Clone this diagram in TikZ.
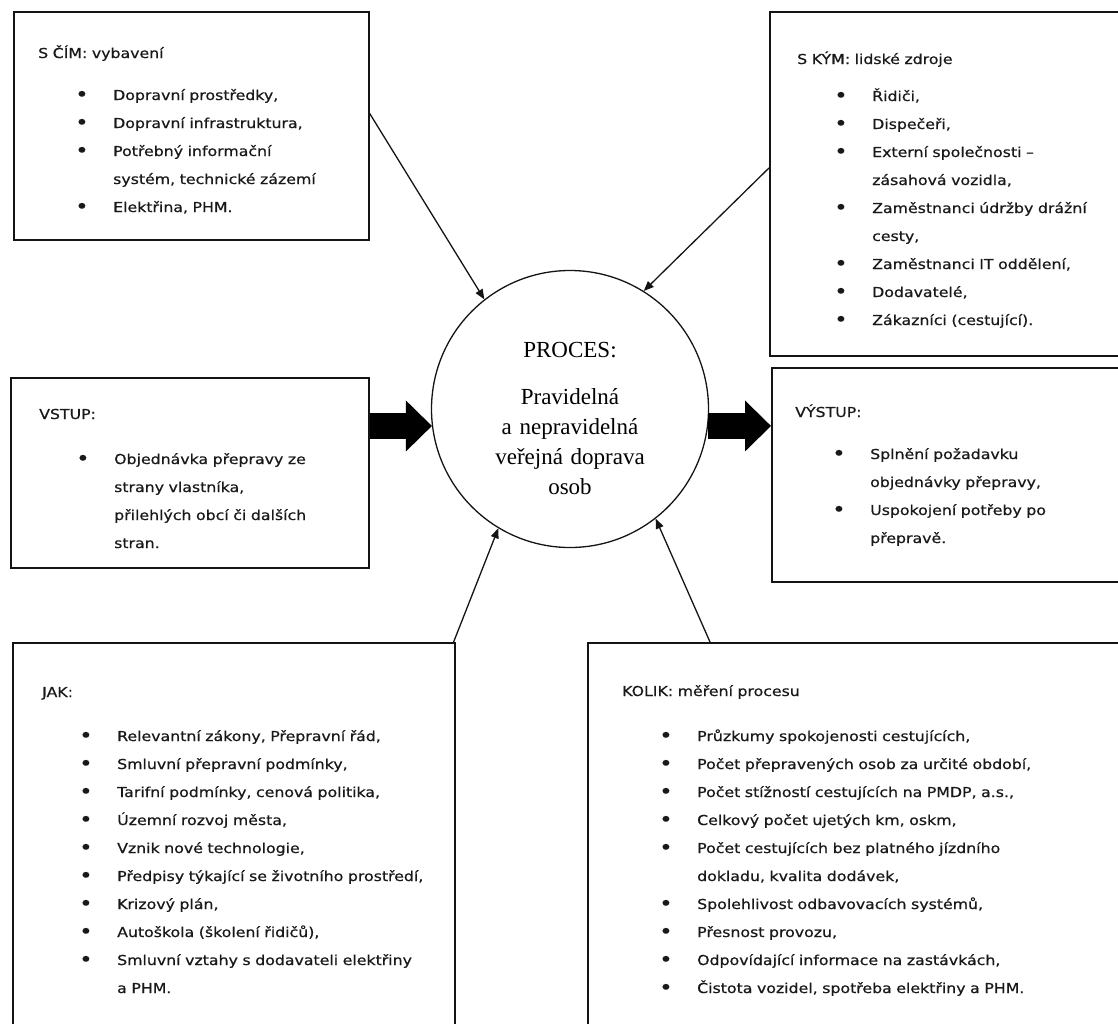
\documentclass[tikz,border=0pt]{standalone}
\usepackage{fontspec}
\setmainfont{Liberation Serif}
\newfontfamily\boxfont[FakeStretch=1.15,FakeBold=0.6]{DejaVu Sans}
\usetikzlibrary{arrows.meta}
\definecolor{framecol}{RGB}{20,20,20}
\newcommand{\tecka}{\raisebox{-1.2pt}{\scalebox{1.45}{\textbullet}}}
\newcommand{\bod}[1]{\hspace*{37pt}\makebox[38pt][l]{\tecka}#1}
\newcommand{\dal}[1]{\hspace*{75pt}#1}
\tikzset{
    % Boxes
    box/.style={
        rectangle,
        draw=framecol,
        line width=1.6pt,
        fill=white,
        anchor=north west,
        inner sep=0pt
    },
    boxtext/.style={
        anchor=base west,
        inner sep=0pt,
        align=left,
        text width=480pt,
        text=black!90,
        font=\boxfont\fontsize{13.7}{28}\selectfont
    },
    % Process
    process/.style={
        circle,
        draw=framecol,
        line width=1.3pt,
        minimum size=277pt,
        inner sep=0pt
    },
    proctext/.style={
        anchor=base,
        inner sep=0pt,
        align=center,
        text width=250pt,
        font=\fontsize{23}{30}\selectfont
    },
    % Arrows
    arrow/.style={
        -{Triangle[length=10pt,width=8pt]},
        line width=1.3pt,
        draw=framecol
    },
    bigarrow/.style={
        -{Triangle[length=26pt,width=51pt,line width=0pt]},
        line width=26pt,
        draw=black
    }
}
\begin{document}
\begin{tikzpicture}[x=1pt, y=-1pt]

    \useasboundingbox (0,0) rectangle (1118,1023);
    \clip (0,0) rectangle (1118,1023);

    % Boxes
    \node[box, minimum width=355pt, minimum height=228pt] (cim) at (13,11) {};
    \node[box, minimum width=361pt, minimum height=344pt] (kym) at (769,11) {};
    \node[box, minimum width=358pt, minimum height=190pt] (vstup) at (10,377) {};
    \node[box, minimum width=359pt, minimum height=214pt] (vystup) at (771,367) {};
    \node[box, minimum width=442pt, minimum height=400pt] (jak) at (12,642) {};
    \node[box, minimum width=543pt, minimum height=400pt] (kolik) at (587,642) {};

    % Process
    \node[process] (proc) at (570,409) {};
    \node[proctext] (proctxt) at (570,357) {PROCES:\\[17pt]
        Pravidelná\\ a~nepravidelná\\ veřejná doprava\\ osob};

    % Texts
    \node[boxtext] (cimtxt) at (38,58) {S ČÍM: vybavení\\[14pt]
        \bod{Dopravní prostředky,}\\
        \bod{Dopravní infrastruktura,}\\
        \bod{Potřebný informační}\\
        \dal{systém, technické zázemí}\\
        \bod{Elektřina, PHM.}};

    \node[boxtext] (kymtxt) at (797,64) {S KÝM: lidské zdroje\\[9pt]
        \bod{Řidiči,}\\
        \bod{Dispečeři,}\\
        \bod{Externí společnosti –}\\
        \dal{zásahová vozidla,}\\
        \bod{Zaměstnanci údržby drážní}\\
        \dal{cesty,}\\
        \bod{Zaměstnanci IT oddělení,}\\
        \bod{Dodavatelé,}\\
        \bod{Zákazníci (cestující).}};

    \node[boxtext] (vstuptxt) at (39,419) {VSTUP:\\[17pt]
        \bod{Objednávka přepravy ze}\\
        \dal{strany vlastníka,}\\
        \dal{přilehlých obcí či dalších}\\
        \dal{stran.}};

    \node[boxtext] (vystuptxt) at (795,417) {VÝSTUP:\\[14pt]
        \bod{Splnění požadavku}\\
        \dal{objednávky přepravy,}\\
        \bod{Uspokojení potřeby po}\\
        \dal{přepravě.}};

    \node[boxtext] (jaktxt) at (42,697) {JAK:\\[16pt]
        \bod{Relevantní zákony, Přepravní řád,}\\
        \bod{Smluvní přepravní podmínky,}\\
        \bod{Tarifní podmínky, cenová politika,}\\
        \bod{Územní rozvoj města,}\\
        \bod{Vznik nové technologie,}\\
        \bod{Předpisy týkající se životního prostředí,}\\
        \bod{Krizový plán,}\\
        \bod{Autoškola (školení řidičů),}\\
        \bod{Smluvní vztahy s dodavateli elektřiny}\\
        \dal{a PHM.}};

    \node[boxtext] (koliktxt) at (622,696) {KOLIK: měření procesu\\[17pt]
        \bod{Průzkumy spokojenosti cestujících,}\\
        \bod{Počet přepravených osob za určité období,}\\
        \bod{Počet stížností cestujících na PMDP, a.s.,}\\
        \bod{Celkový počet ujetých km, oskm,}\\
        \bod{Počet cestujících bez platného jízdního}\\
        \dal{dokladu, kvalita dodávek,}\\
        \bod{Spolehlivost odbavovacích systémů,}\\
        \bod{Přesnost provozu,}\\
        \bod{Odpovídající informace na zastávkách,}\\
        \bod{Čistota vozidel, spotřeba elektřiny a PHM.}};

    % Thin arrows
    \draw[arrow] (cim.4) -- (proc.128);
    \draw[arrow] (kym.175) -- (proc.58);
    \draw[arrow] ([xshift=-2pt]jak.north east) -- (proc.239);
    \draw[arrow] ([xshift=123pt]kolik.north west) -- (proc.308);

    % Input / output
    \draw[bigarrow] (vstup.east |- proc.187.5) -- (proc.187.5);
    \draw[bigarrow] (proc.-7.5) -- (vystup.west |- proc.-7.5);

\end{tikzpicture}
\end{document}
